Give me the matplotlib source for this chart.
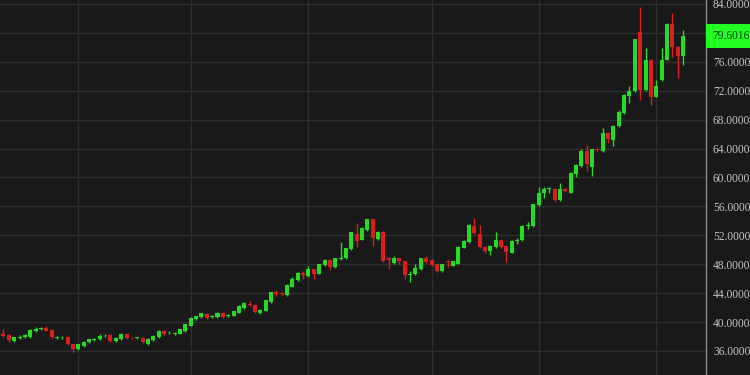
import numpy as np
import matplotlib
matplotlib.use('Agg')
import matplotlib.pyplot as plt
import matplotlib.transforms as mtransforms

# daily candles (oldest first)
opens = [36.8, 38.4, 38.2, 37.4, 37.8, 37.9, 37.9, 38.7, 39.05, 39.2,
         38.9, 37.85, 37.9, 38.0, 36.9, 36.3, 36.7, 37.2, 37.55, 37.6,
         38.15, 38.2, 37.4, 37.6, 38.4, 37.85, 37.8, 37.8, 37.0, 37.5,
         37.9, 38.8, 38.45, 38.4, 38.4, 38.7, 39.5, 40.4, 40.7, 41.1,
         40.7, 40.7, 41.3, 40.8, 40.9, 41.3, 41.9, 42.5, 42.4, 41.3,
         41.6, 42.8, 44.1, 44.0, 43.7, 44.9, 45.8, 46.8, 46.4, 47.3,
         46.7, 47.9, 48.6, 47.6, 48.75, 48.8, 50.1, 52.2, 51.4, 52.7,
         54.2, 51.5, 52.5, 48.8, 48.2, 48.8, 48.4, 46.5, 46.6, 47.3,
         48.8, 48.6, 48.0, 47.0, 48.4, 47.8, 48.1, 50.3, 51.1, 53.3,
         52.2, 50.4, 49.9, 50.4, 51.3, 50.5, 49.6, 51.2, 51.3, 53.3,
         53.3, 56.2, 57.8, 58.4, 58.4, 56.9, 58.4, 57.9, 60.5, 61.6,
         63.6, 61.5, 64.0, 63.6, 66.2, 65.2, 67.1, 68.9, 71.3, 71.9,
         80.1, 72.1, 76.3, 71.2, 73.5, 76.3, 81.2, 78.1, 76.8]
highs = [38.4, 39.1, 38.4, 38.0, 38.2, 38.3, 39.0, 39.3, 39.3, 39.5,
         39.0, 38.1, 38.1, 38.1, 37.0, 37.0, 37.4, 37.7, 37.8, 38.3,
         38.4, 38.3, 37.9, 38.5, 38.5, 38.0, 38.0, 37.9, 37.8, 38.2,
         38.9, 38.9, 38.7, 38.6, 39.1, 39.8, 40.7, 40.9, 41.3, 41.2,
         41.0, 41.4, 41.4, 41.1, 41.6, 42.3, 42.8, 42.9, 42.5, 41.8,
         43.1, 44.2, 44.4, 44.1, 45.2, 46.3, 46.9, 47.0, 47.7, 47.4,
         48.1, 48.7, 48.7, 48.9, 51.1, 50.3, 52.5, 53.7, 53.1, 54.3,
         54.3, 52.6, 52.6, 49.0, 49.1, 48.9, 48.5, 47.0, 48.0, 48.9,
         49.1, 48.7, 48.1, 48.1, 48.6, 48.5, 50.5, 51.3, 53.5, 54.4,
         53.4, 50.5, 50.6, 52.4, 51.4, 50.6, 51.3, 51.6, 53.4, 53.8,
         56.4, 58.7, 58.7, 58.7, 58.5, 59.3, 58.5, 60.7, 61.8, 64.0,
         64.5, 64.0, 64.1, 66.8, 66.3, 67.2, 69.3, 71.5, 72.6, 79.2,
         83.6, 77.9, 76.4, 73.5, 77.9, 81.4, 82.7, 78.2, 80.4]
lows = [36.6, 37.9, 37.3, 37.3, 37.6, 37.8, 37.8, 38.6, 38.9, 38.7,
        37.8, 37.7, 37.7, 36.8, 35.9, 36.1, 36.6, 37.1, 37.4, 37.5,
        38.0, 37.3, 37.3, 37.5, 37.6, 37.6, 37.6, 37.1, 36.8, 37.4,
        37.8, 38.2, 38.3, 38.2, 38.3, 38.6, 39.4, 40.3, 40.6, 40.4,
        40.6, 40.6, 40.6, 40.7, 40.8, 41.2, 41.8, 42.2, 41.3, 41.1,
        41.5, 42.7, 43.6, 43.7, 43.6, 44.8, 45.7, 46.0, 46.3, 45.9,
        46.6, 47.8, 47.2, 47.5, 48.6, 48.7, 50.0, 50.4, 51.3, 52.6,
        50.5, 51.4, 48.3, 47.4, 48.0, 48.0, 45.9, 45.6, 46.5, 47.2,
        48.2, 47.8, 46.9, 46.9, 47.6, 47.7, 48.0, 50.2, 51.0, 52.2,
        50.3, 49.5, 49.3, 50.3, 50.3, 48.3, 49.5, 50.8, 51.2, 52.9,
        53.2, 56.1, 57.2, 57.9, 56.6, 56.8, 58.0, 57.8, 60.0, 61.5,
        60.9, 60.2, 63.7, 63.5, 64.8, 64.4, 67.0, 68.8, 70.3, 71.8,
        70.7, 71.9, 70.0, 71.1, 73.4, 76.2, 76.7, 73.7, 75.6]
closes = [38.1, 38.1, 37.5, 37.9, 37.9, 38.2, 38.9, 39.1, 39.15, 38.8,
          37.9, 37.95, 38.0, 36.9, 36.3, 36.9, 37.3, 37.6, 37.65, 38.1,
          38.25, 37.4, 37.8, 38.4, 37.8, 37.75, 37.85, 37.2, 37.7, 38.1,
          38.8, 38.35, 38.55, 38.5, 39.0, 39.7, 40.6, 40.8, 41.2, 40.5,
          40.85, 41.3, 40.7, 41.0, 41.5, 42.2, 42.7, 42.4, 41.4, 41.7,
          43.0, 44.1, 43.95, 43.85, 45.1, 45.9, 46.8, 46.5, 47.3, 46.7,
          48.0, 48.6, 47.6, 48.8, 48.9, 50.2, 52.4, 51.2, 53.0, 54.2,
          51.6, 52.5, 48.5, 48.6, 48.9, 48.5, 46.5, 46.7, 47.5, 48.8,
          48.3, 47.9, 47.0, 48.0, 48.3, 48.4, 50.4, 51.2, 53.4, 52.3,
          50.4, 49.9, 50.5, 51.3, 50.4, 49.7, 51.2, 51.3, 53.3, 53.4,
          56.3, 57.9, 58.4, 58.5, 56.9, 58.4, 58.2, 60.6, 61.7, 63.6,
          61.9, 63.9, 63.85, 66.2, 65.3, 67.1, 69.0, 71.4, 71.9, 79.1,
          72.1, 76.3, 71.2, 72.7, 76.3, 81.2, 78.1, 76.8, 79.6016]

# candle index where each month starts (vertical grid)
month_starts = [15, 36, 58, 81, 101, 123]
y_ticks = [36, 40, 44, 48, 52, 56, 60, 64, 68, 72, 76, 80, 84]
last_price = closes[-1]

bg = '#191919'
grid_col = '#2e2e2e'
up_col = '#22dd22'
down_col = '#dd1c1c'

o = np.array(opens)
h = np.array(highs)
l = np.array(lows)
c = np.array(closes)
x = np.arange(len(o))
up = c >= o
cols = np.where(up, up_col, down_col)

fig = plt.figure(figsize=(7.5, 3.75), dpi=100, facecolor=bg)
ax = fig.add_axes([0, 0, 706 / 750, 1], facecolor=bg)

for m in month_starts:
    ax.axvline(m, color=grid_col, lw=1, zorder=0)
for t in y_ticks:
    ax.axhline(t, color=grid_col, lw=1, zorder=0)

ax.vlines(x, l, h, colors=cols, lw=1, zorder=2)
body_lo = np.minimum(o, c)
body_h = np.maximum(np.abs(c - o), 0.1)
ax.bar(x, body_h, bottom=body_lo, width=0.75, color=cols, edgecolor=cols,
       lw=0, zorder=3)

ax.set_xlim(0.35, 132.3)
ax.set_ylim(32.68, 84.55)
ax.set_xticks([])
ax.yaxis.tick_right()
# the last price label hides the tick label next to it
shown = [t for t in y_ticks if abs(t - last_price) > 2]
ax.set_yticks(shown)
ax.set_yticklabels([f'{t:.4f}' for t in shown], family='Liberation Serif',
                   fontsize=8.3, color='#c4c4c4')
ax.tick_params(axis='y', length=0, pad=5)
for side in ['top', 'bottom', 'left']:
    ax.spines[side].set_visible(False)
ax.spines['right'].set_color('#8c8c8c')
ax.spines['right'].set_linewidth(1)

trans = mtransforms.blended_transform_factory(ax.transAxes, ax.transData)
ax.text(1.0 + 6 / 706, last_price, f'{last_price:.4f}', transform=trans,
        ha='left', va='center', family='Liberation Serif', fontsize=8.3,
        color='#0d3d0d', clip_on=False,
        bbox=dict(boxstyle='square,pad=0.5', facecolor='#22ff22',
                  edgecolor='none'))

fig.savefig('out.png', dpi=100, facecolor=bg)
